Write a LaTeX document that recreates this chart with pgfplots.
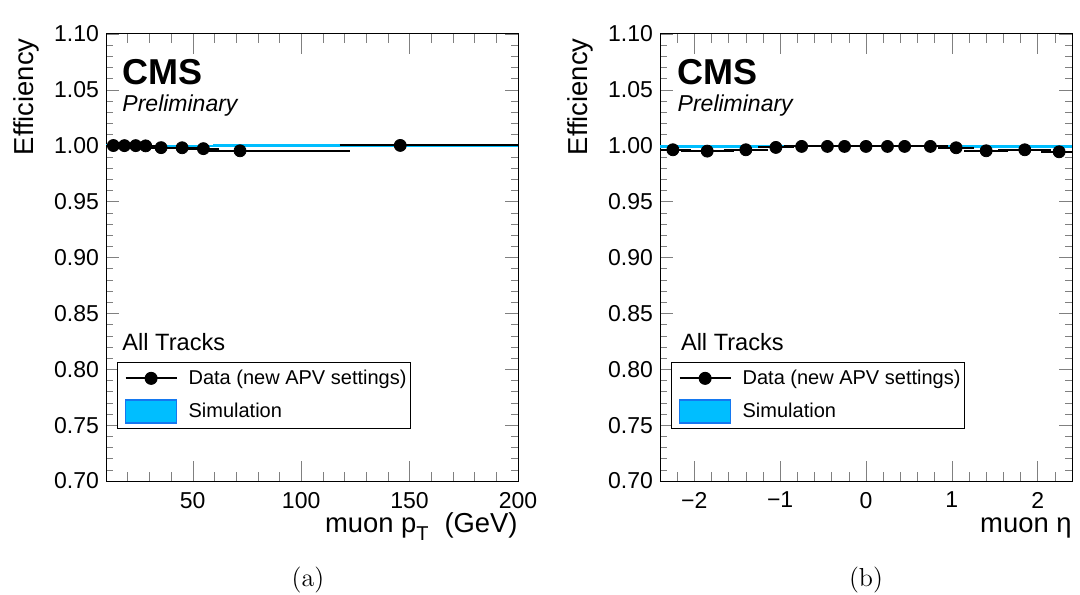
\documentclass[border=0pt]{standalone}
\usepackage{fontspec}
\usepackage{pgfplots}
\pgfplotsset{compat=1.18}
\usepackage{pgfplotstable}
\newfontfamily\helv{Liberation Sans}
\definecolor{simfill}{RGB}{0,190,255}
\definecolor{simedge}{RGB}{20,120,240}

% left: muon pT
\pgfplotstableread{
x y exm exp
13.4 1.0002 3.4 2.6
18.5 1.0001 2.5 2.5
23.7 1.0001 2.7 2.3
28.3 0.9999 2.3 2.7
35.4 0.9983 4.4 4.6
45.1 0.9982 5.1 4.9
54.9 0.9974 4.9 5.1
71.8 0.9955 11.8 48.2
145.7 1.0003 25.7 54.3
}\dataPt
\pgfplotstableread{
x y
10 1.0001
16 1.0001
21 1.0001
26 1.0000
31 1.0000
40 0.9999
50 0.9998
60 1.0001
120 0.9997
200 0.9997
}\simPt
% right: muon eta
\pgfplotstableread{
x y exm exp
-2.25 0.9964 0.15 0.15
-1.85 0.9952 0.25 0.25
-1.40 0.9964 0.20 0.20
-1.05 0.9985 0.15 0.15
-0.75 0.9994 0.15 0.15
-0.45 0.9994 0.15 0.15
-0.25 0.9994 0.05 0.05
0.00 0.9994 0.20 0.20
0.25 0.9994 0.05 0.05
0.45 0.9994 0.15 0.15
0.75 0.9994 0.15 0.15
1.05 0.9982 0.15 0.15
1.40 0.9955 0.20 0.20
1.85 0.9964 0.25 0.25
2.25 0.9946 0.15 0.15
}\dataEta
\pgfplotstableread{
x y
-2.4 0.9993
-2.1 0.9993
-1.6 0.9994
-1.2 0.9995
-0.9 0.9997
-0.6 0.9997
-0.3 0.9997
-0.2 0.9997
0.2 0.9997
0.3 0.9997
0.6 0.9997
0.9 0.9996
1.2 0.9993
1.6 0.9993
2.1 0.9993
2.4 0.9993
}\simEta

\pgfplotsset{
  cmsstyle/.style={
    scale only axis, width=206pt, height=223.5pt,
    ymin=0.70, ymax=1.10,
    ytick={0.70,0.75,0.80,0.85,0.90,0.95,1.00,1.05,1.10},
    yticklabels={0.70,0.75,0.80,0.85,0.90,0.95,1.00,1.05,1.10},
    minor ytick={0.71,0.72,0.73,0.74,0.76,0.77,0.78,0.79,0.81,0.82,0.83,0.84,0.86,0.87,0.88,0.89,0.91,0.92,0.93,0.94,0.96,0.97,0.98,0.99,1.01,1.02,1.03,1.04,1.06,1.07,1.08,1.09},
    tick align=inside,
    major tick length=6.5pt, minor tick length=3.5pt,
    xtick style={/pgfplots/major tick length=10pt,/pgfplots/minor tick length=4.5pt},
    /pgf/number format/assume math mode=true,
    ticklabel style={font=\helv\fontsize{11.5}{13}\selectfont},
    xticklabel style={yshift=-2pt},
    label style={font=\helv\fontsize{13.7}{16}\selectfont, inner sep=0pt},
    xlabel style={at={(axis description cs:1,0)}, anchor=base east, yshift=-25.5pt},
    ylabel style={at={(axis description cs:-0.177,0.991)}, anchor=base east},
    ylabel={Efficiency},
    axis line style={line width=0.5pt},
    reverse legend,
    legend style={at={(0.027,0.266)}, anchor=north west, draw=black, line width=0.5pt,
      font=\helv\fontsize{10}{12}\selectfont, inner xsep=1pt, inner ysep=2.5pt,
      nodes={inner sep=1pt}, row sep=5pt},
    legend cell align=left,
  },
  datastyle/.style={only marks, mark=*, mark size=3pt, black,
    error bars/.cd, x dir=both, x explicit,
    error bar style={line width=1pt, black},
    error mark options={mark size=2.5pt, line width=1pt, black},
    /pgfplots/.cd},
  simstyle/.style={const plot, draw=simfill, line width=1.2pt, mark=none},
  datalegend/.style={legend image code/.code={
    \path[draw=none,fill=none] (-3pt,-1pt) rectangle (30.5pt,1pt);
    \draw[black,line width=1pt] (0pt,0pt) -- (25.5pt,0pt);
    \fill[black] (12.75pt,0pt) circle (3pt);}},
  simlegend/.style={legend image code/.code={
    \path[draw=none,fill=none] (-3pt,-1pt) rectangle (30.5pt,1pt);
    \draw[fill=simfill, draw=simedge, line width=0.8pt] (0pt,-5.8pt) rectangle (25.5pt,5.8pt);}},
}

\begin{document}
\begin{tikzpicture}
\useasboundingbox (0,0) rectangle (540pt,297pt);

\begin{axis}[cmsstyle, at={(53pt,56.5pt)}, anchor=south west,
  xmin=10, xmax=200,
  xtick={50,100,150,200},
  minor xtick={20,30,40,60,70,80,90,110,120,130,140,160,170,180,190},
  xlabel={muon p\raisebox{-0.6ex}{\fontsize{10}{12}\selectfont T}\hspace{0.3em} (GeV)},
]
\addplot[simlegend, simstyle] table[x=x,y=y] {\simPt};
\addlegendentry{Simulation}
\addplot[datalegend, datastyle] table[x=x, y=y, x error minus=exm, x error plus=exp] {\dataPt};
\addlegendentry{Data (new APV settings)}
\node[anchor=base west, font=\helv\bfseries\fontsize{18}{20}\selectfont, inner sep=0pt] at (rel axis cs:0.039,0.886) {CMS};
\node[anchor=base west, font=\helv\itshape\fontsize{11.5}{13}\selectfont, inner sep=0pt] at (rel axis cs:0.039,0.8255) {Preliminary};
\node[anchor=base west, font=\helv\fontsize{11.8}{13}\selectfont, inner sep=0pt] at (rel axis cs:0.039,0.293) {All Tracks};
\node[anchor=base east, font=\helv\fontsize{8.8}{10}\selectfont, inner sep=0pt] at (rel axis cs:1,1.0157) {16 fb\textsuperscript{-1} (13 TeV, 2016 Legacy)};
\end{axis}

\begin{axis}[cmsstyle, at={(330pt,56.5pt)}, anchor=south west,
  xmin=-2.4, xmax=2.4,
  xtick={-2,-1,0,1,2},
  xticklabels={−2,−1,0,1,2},
  minor xtick={-2.4,-2.2,-1.8,-1.6,-1.4,-1.2,-0.8,-0.6,-0.4,-0.2,0.2,0.4,0.6,0.8,1.2,1.4,1.6,1.8,2.2,2.4},
  xlabel={muon η},
]
\addplot[simlegend, simstyle] table[x=x,y=y] {\simEta};
\addlegendentry{Simulation}
\addplot[datalegend, datastyle] table[x=x, y=y, x error minus=exm, x error plus=exp] {\dataEta};
\addlegendentry{Data (new APV settings)}
\node[anchor=base west, font=\helv\bfseries\fontsize{18}{20}\selectfont, inner sep=0pt] at (rel axis cs:0.042,0.886) {CMS};
\node[anchor=base west, font=\helv\itshape\fontsize{11.5}{13}\selectfont, inner sep=0pt] at (rel axis cs:0.042,0.8255) {Preliminary};
\node[anchor=base west, font=\helv\fontsize{11.8}{13}\selectfont, inner sep=0pt] at (rel axis cs:0.05,0.293) {All Tracks};
\node[anchor=base east, font=\helv\fontsize{8.8}{10}\selectfont, inner sep=0pt] at (rel axis cs:1,1.0157) {16 fb\textsuperscript{-1} (13 TeV, 2016 Legacy)};
\end{axis}

\node[anchor=base, font=\fontsize{13}{15}\selectfont, inner sep=0pt] at (154pt,4pt) {(a)};
\node[anchor=base, font=\fontsize{13}{15}\selectfont, inner sep=0pt] at (433pt,4pt) {(b)};
\end{tikzpicture}
\end{document}
